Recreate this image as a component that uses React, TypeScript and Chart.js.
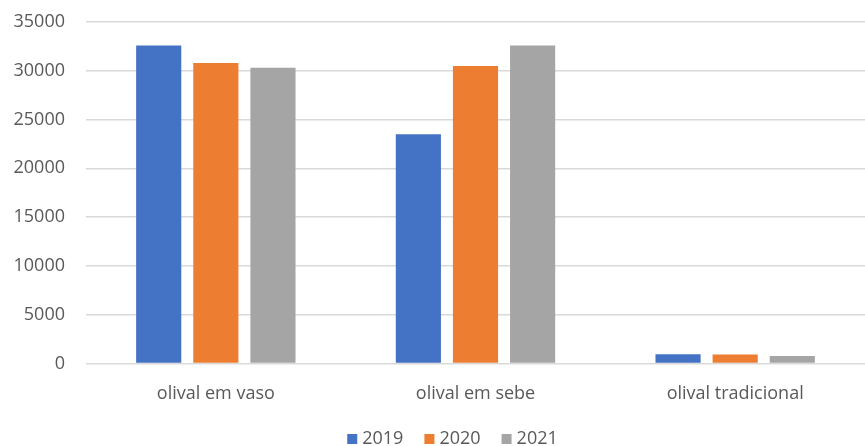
import React, { useEffect, useRef } from "react";
import { Chart, registerables } from "chart.js";

Chart.register(...registerables);

const categories = ["olival em vaso", "olival em sebe", "olival tradicional"];
const seriesLabels = ["2019", "2020", "2021"];
const values2019 = [32600, 23500, 950];
const values2020 = [30800, 30500, 900];
const values2021 = [30300, 32600, 750];
const seriesColors = ["#4472C4", "#ED7D31", "#A5A5A5"];

const FONT = "'Open Sans', 'Liberation Sans', sans-serif";
const TEXT = "#595959";
const FONT_SIZE = 18;

// Compact bottom legend: small square swatch, tight gap to the label.
const compactLegend = {
  id: "compactLegend",
  afterDraw(chart: any) {
    const ctx = chart.ctx as CanvasRenderingContext2D;
    const box = 10;
    const boxGap = 5;
    const itemGap = 21;
    ctx.save();
    ctx.font = `${FONT_SIZE}px ${FONT}`;
    ctx.textBaseline = "middle";
    const items = chart.data.datasets.map((ds: any) => ({
      label: ds.label as string,
      color: ds.backgroundColor as string,
      w: ctx.measureText(ds.label).width,
    }));
    const total =
      items.reduce((s: number, it: any) => s + box + boxGap + it.w, 0) +
      itemGap * (items.length - 1);
    let x = chart.width / 2 + 20 - total / 2;
    const y = chart.height - 7;
    items.forEach((it: any) => {
      ctx.fillStyle = it.color;
      ctx.fillRect(x, y - box / 2, box, box);
      x += box + boxGap;
      ctx.fillStyle = TEXT;
      ctx.textAlign = "left";
      ctx.fillText(it.label, x, y);
      x += it.w + itemGap;
    });
    ctx.restore();
  },
};

export default function App() {
  const canvasRef = useRef<HTMLCanvasElement | null>(null);

  useEffect(() => {
    document.body.style.margin = "0";
    const canvas = canvasRef.current;
    if (!canvas) return;
    const data = [values2019, values2020, values2021];
    const chart = new Chart(canvas, {
      type: "bar",
      data: {
        labels: categories,
        datasets: seriesLabels.map((label, i) => ({
          label,
          data: data[i],
          backgroundColor: seriesColors[i],
          borderWidth: 0,
          categoryPercentage: 0.66,
          barPercentage: 0.79,
        })),
      },
      options: {
        animation: false,
        responsive: false,
        maintainAspectRatio: false,
        layout: { padding: { top: 22, left: 0, right: -11, bottom: 29 } },
        plugins: {
          tooltip: { enabled: false },
          legend: { display: false },
        },
        scales: {
          x: {
            grid: { display: false },
            border: { display: false },
            ticks: {
              color: TEXT,
              padding: 12,
              font: { family: FONT, size: FONT_SIZE },
            },
          },
          y: {
            min: 0,
            max: 35000,
            afterFit: (scale: any) => {
              scale.width = 86;
              scale.paddingTop = 0;
              scale.paddingBottom = 0;
            },
            grid: { color: "#D9D9D9", lineWidth: 1.5, drawTicks: false },
            border: { display: false },
            ticks: {
              stepSize: 5000,
              color: TEXT,
              padding: 21,
              font: { family: FONT, size: FONT_SIZE },
              callback: (v: any) => String(v),
            },
          },
        },
      },
      plugins: [compactLegend],
    });
    return () => chart.destroy();
  }, []);

  return (
    <div style={{ width: 865, height: 446, background: "#fff" }}>
      <canvas ref={canvasRef} width={865} height={446} />
    </div>
  );
}
